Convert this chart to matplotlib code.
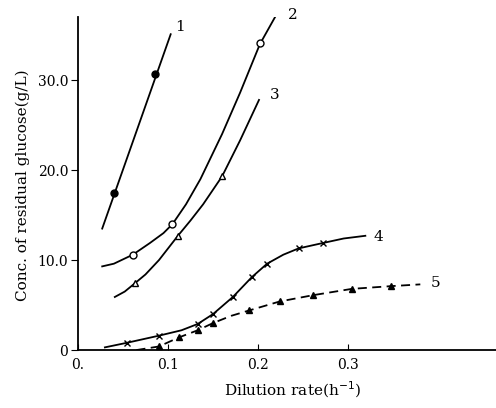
import matplotlib
matplotlib.use('Agg')
import matplotlib.pyplot as plt

line1_x = [0.027, 0.103]
line1_y = [13.5, 35.1]
pts1_x = [0.040, 0.086]
pts1_y = [17.4, 30.7]

line2_x = [0.027, 0.040, 0.061, 0.080, 0.095, 0.105, 0.120, 0.136, 0.160, 0.180, 0.202, 0.221]
line2_y = [9.3, 9.6, 10.6, 11.9, 13.0, 14.0, 16.2, 19.0, 24.0, 28.6, 34.0, 37.4]
pts2_x = [0.061, 0.105, 0.202]
pts2_y = [10.6, 14.0, 34.1]

line3_x = [0.041, 0.052, 0.063, 0.075, 0.090, 0.111, 0.125, 0.139, 0.160, 0.180, 0.201]
line3_y = [5.9, 6.5, 7.4, 8.4, 10.0, 12.7, 14.4, 16.2, 19.3, 23.3, 27.8]
pts3_x = [0.063, 0.111, 0.160]
pts3_y = [7.4, 12.7, 19.3]

line4_x = [0.030, 0.054, 0.090, 0.115, 0.133, 0.150, 0.172, 0.193, 0.210, 0.228, 0.245, 0.272, 0.295, 0.319]
line4_y = [0.3, 0.8, 1.6, 2.2, 2.9, 4.0, 5.9, 8.1, 9.6, 10.6, 11.3, 11.9, 12.4, 12.7]
pts4_x = [0.054, 0.090, 0.133, 0.150, 0.172, 0.193, 0.210, 0.245, 0.272]
pts4_y = [0.8, 1.6, 2.9, 4.0, 5.9, 8.1, 9.6, 11.3, 11.9]

line5_x = [0.065, 0.090, 0.112, 0.133, 0.150, 0.170, 0.190, 0.224, 0.261, 0.304, 0.347, 0.380]
line5_y = [0.0, 0.4, 1.4, 2.2, 3.0, 3.8, 4.4, 5.4, 6.1, 6.8, 7.1, 7.3]
pts5_x = [0.090, 0.112, 0.133, 0.150, 0.190, 0.224, 0.261, 0.304, 0.347]
pts5_y = [0.4, 1.4, 2.2, 3.0, 4.4, 5.4, 6.1, 6.8, 7.1]

curve_labels = ['1', '2', '3', '4', '5']
label_x = [0.113, 0.238, 0.218, 0.333, 0.397]
label_y = [35.9, 37.2, 28.3, 12.6, 7.4]

x_ticks = [0, 0.1, 0.2, 0.3]
x_tick_labels = ['0.', '0.1', '0.2', '0.3']
y_ticks = [0, 10, 20, 30]
y_tick_labels = ['0', '10.0', '20.0', '30.0']

plt.rcParams['font.family'] = ['DejaVu Serif']

fig = plt.figure(figsize=(4.96, 4.08), dpi=100)
ax = fig.add_axes([0.157, 0.142, 0.843, 0.816])

lw = 1.3
ax.plot(line1_x, line1_y, 'k-', lw=lw)
ax.plot(pts1_x, pts1_y, 'ko', ms=5, ls='none')

ax.plot(line2_x, line2_y, 'k-', lw=lw)
ax.plot(pts2_x, pts2_y, 'o', ms=5, mfc='white', mec='black', mew=1, ls='none')

ax.plot(line3_x, line3_y, 'k-', lw=lw)
ax.plot(pts3_x, pts3_y, '^', ms=5, mfc='white', mec='black', mew=1, ls='none')

ax.plot(line4_x, line4_y, 'k-', lw=lw)
ax.plot(pts4_x, pts4_y, 'kx', ms=5, mew=1, ls='none')

ax.plot(line5_x, line5_y, 'k--', lw=lw, dashes=(5, 3))
ax.plot(pts5_x, pts5_y, 'k^', ms=5, ls='none')

for t, lx, ly in zip(curve_labels, label_x, label_y):
    ax.text(lx, ly, t, fontsize=11, ha='center', va='center')

ax.set_xlim(0, 0.464)
ax.set_ylim(0, 37)
ax.spines['top'].set_visible(False)
ax.spines['right'].set_visible(False)
ax.spines['left'].set_linewidth(1.3)
ax.spines['bottom'].set_linewidth(1.3)

ax.set_xticks(x_ticks)
ax.set_xticklabels(x_tick_labels, fontsize=10)
ax.set_yticks(y_ticks)
ax.set_yticklabels(y_tick_labels, fontsize=10)
ax.tick_params(axis='x', direction='in', length=4, pad=6)
ax.tick_params(axis='y', direction='out', length=5, pad=2)

fig.text(0.589, 0.044, 'Dilution rate(h$^{-1}$)', fontsize=11, ha='center', va='center')
fig.text(0.045, 0.545, 'Conc. of residual glucose(g/L)', fontsize=11,
         ha='center', va='center', rotation=90)

fig.savefig('out.png', dpi=100)
